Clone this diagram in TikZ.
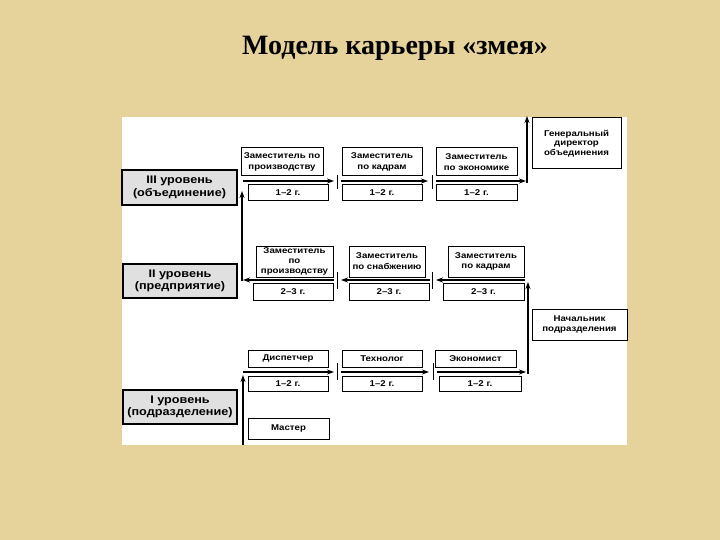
\documentclass[tikz,border=0pt]{standalone}
\usepackage{fontspec}
\setmainfont{Liberation Serif}
\newfontfamily\bxfont[FakeStretch=1.15]{Liberation Sans}
\usetikzlibrary{arrows.meta}
\definecolor{parch}{RGB}{230,211,155}
\definecolor{lvlgray}{RGB}{224,224,224}
\tikzset{
  lvl/.style={draw, line width=1.3pt, fill=lvlgray, inner sep=0pt, align=center,
    font=\bxfont\bfseries\fontsize{11}{12.5}\selectfont},
  posbox/.style={draw, line width=1pt, fill=white, inner sep=0pt, align=center,
    font=\bxfont\bfseries\fontsize{8.4}{10.8}\selectfont},
  tight/.style={font=\bxfont\bfseries\fontsize{8.4}{9.6}\selectfont},
  arr/.style={line width=1.5pt, -{Stealth[length=7pt,width=5pt]}},
  tk/.style={line width=0.8pt}
}
\begin{document}
\begin{tikzpicture}[x=1pt,y=-1pt]
\fill[parch] (0,0) rectangle (720,540);
\useasboundingbox (0,0) rectangle (720,540);
\fill[white] (122,117) rectangle (627,445);
\node[font=\bfseries\fontsize{28}{31}\selectfont] (title) at (395,48) {Модель карьеры «змея»};

% levels
\node[lvl, minimum width=115, minimum height=35] (L3) at (179.5,187.5) {III уровень\\(объединение)};
\node[lvl, minimum width=114, minimum height=34] (L2) at (180,281) {II уровень\\(предприятие)};
\node[lvl, minimum width=114, minimum height=34] (L1) at (180,407) {I уровень\\(подразделение)};

% row III
\node[posbox, minimum width=82, minimum height=28] (A1) at (282,162) {Заместитель по\\производству};
\node[posbox, minimum width=80, minimum height=28] (A2) at (382,162) {Заместитель\\по кадрам};
\node[posbox, minimum width=81, minimum height=28] (A3) at (476.5,162) {Заместитель\\по экономике};
\node[posbox, minimum width=80, minimum height=16] (a1) at (288,193) {1–2 г.};
\node[posbox, minimum width=80, minimum height=16] (a2) at (382,193) {1–2 г.};
\node[posbox, minimum width=81, minimum height=16] (a3) at (476.5,193) {1–2 г.};
\node[posbox, tight, minimum width=89, minimum height=51] (G) at (576.5,143.5) {Генеральный\\директор\\объединения};

% row II
\node[posbox, tight, minimum width=77, minimum height=31] (B1) at (294.5,261.5) {Заместитель\\по\\производству};
\node[posbox, minimum width=76, minimum height=31] (B2) at (387,261.5) {Заместитель\\по снабжению};
\node[posbox, minimum width=76, minimum height=31] (B3) at (486,261.5) {Заместитель\\по кадрам};
\node[posbox, minimum width=80, minimum height=17] (b1) at (293,291.5) {2–3 г.};
\node[posbox, minimum width=80, minimum height=17] (b2) at (389,291.5) {2–3 г.};
\node[posbox, minimum width=81, minimum height=17] (b3) at (483.5,291.5) {2–3 г.};
\node[posbox, minimum width=95, minimum height=31] (N) at (579.5,324.5) {Начальник\\подразделения};

% row I
\node[posbox, minimum width=80, minimum height=17] (C1) at (288,358.5) {Диспетчер};
\node[posbox, minimum width=80, minimum height=17] (C2) at (382,358.5) {Технолог};
\node[posbox, minimum width=81, minimum height=17] (C3) at (475.5,358.5) {Экономист};
\node[posbox, minimum width=80, minimum height=15] (c1) at (288,383.5) {1–2 г.};
\node[posbox, minimum width=80, minimum height=15] (c2) at (382,383.5) {1–2 г.};
\node[posbox, minimum width=82, minimum height=15] (c3) at (480,383.5) {1–2 г.};
\node[posbox, minimum width=81, minimum height=21] (M) at (288.5,428.5) {Мастер};

% coordinates for the path
\coordinate (p3a) at (243,181); \coordinate (p3b) at (334,181);
\coordinate (p3c) at (341,181); \coordinate (p3d) at (428,181);
\coordinate (p3e) at (436,181); \coordinate (p3f) at (526,181);
\coordinate (v3a) at (527,183); \coordinate (v3b) at (527,116);

\coordinate (p2a) at (525,280); \coordinate (p2b) at (436,280);
\coordinate (p2c) at (430,280); \coordinate (p2d) at (341,280);
\coordinate (p2e) at (334,280); \coordinate (p2f) at (243,280);
\coordinate (v2a) at (242,281); \coordinate (v2b) at (242,191);

\coordinate (p1a) at (243,372); \coordinate (p1b) at (334,372);
\coordinate (p1c) at (341,372); \coordinate (p1d) at (429,372);
\coordinate (p1e) at (437,372); \coordinate (p1f) at (526,372);
\coordinate (v1a) at (528,374); \coordinate (v1b) at (528,282);
\coordinate (v0a) at (243,445); \coordinate (v0b) at (243,375);

% arrows
\draw[arr] (p3a) -- (p3b);
\draw[arr] (p3c) -- (p3d);
\draw[arr] (p3e) -- (p3f);
\draw[arr] (v3a) -- (v3b);
\draw[arr] (p2a) -- (p2b);
\draw[arr] (p2c) -- (p2d);
\draw[arr] (p2e) -- (p2f);
\draw[arr] (v2a) -- (v2b);
\draw[arr] (p1a) -- (p1b);
\draw[arr] (p1c) -- (p1d);
\draw[arr] (p1e) -- (p1f);
\draw[arr] (v1a) -- (v1b);
\draw[arr] (v0a) -- (v0b);

% ticks
\draw[tk] (337,175) -- (337,189);
\draw[tk] (432,175) -- (432,189);
\draw[tk] (337,272) -- (337,289);
\draw[tk] (432,272) -- (432,289);
\draw[tk] (337,363) -- (337,380);
\draw[tk] (433,363) -- (433,380);
\end{tikzpicture}
\end{document}
